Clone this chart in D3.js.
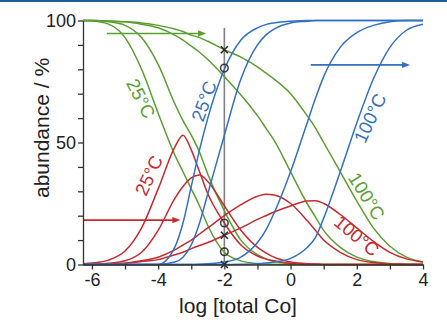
<!DOCTYPE html>
<html>
<head>
<meta charset="utf-8">
<script src="https://cdn.jsdelivr.net/npm/d3@7"></script>
<style>
  body { margin: 0; background: #fff; }
  svg { display: block; font-family: Arial, "Liberation Sans", Helvetica, sans-serif; }
</style>
</head>
<body>
<svg id="chart" width="447" height="320"></svg>
<script>
// log [total Co] sample points shared by every curve
const logCo = [-6.27, -6, -5.5, -5, -4.5, -4, -3.5, -3.25, -3, -2.75, -2.5, -2, -1.5, -1, -0.75, -0.5, 0, 0.5, 0.75, 1, 1.5, 2, 2.5, 3, 3.5, 4];

// green: decreasing species, 25 / 50 / 75 / 100 °C
const green25  = [100, 99.8, 98.5, 93, 80, 62, 45, 38, 31, 24, 16, 5, 1.5, 0.4, 0.2, 0.1, 0, 0, 0, 0, 0, 0, 0, 0, 0, 0];
const green50  = [100, 100, 99.5, 98, 93, 82, 66, 59, 53, 46, 37, 22, 10, 4, 2.3, 1.2, 0.3, 0, 0, 0, 0, 0, 0, 0, 0, 0];
const green75  = [100, 100, 99.8, 99.5, 98.5, 97, 94, 92, 89.5, 87, 84, 77, 69.5, 61, 56, 51, 38, 25, 19.5, 14, 7, 3, 1.2, 0.4, 0.1, 0];
const green100 = [100, 100, 99.8, 99.5, 99, 98, 96.5, 95.5, 94, 93, 91.5, 88, 85, 81, 78.5, 76, 70, 61, 56, 50, 38, 26, 15, 7.5, 3, 1];

// red: intermediate species
const red25  = [0.3, 0.6, 1.8, 5.5, 15, 31, 48, 53, 47, 38, 29, 17, 8, 3.5, 2.3, 1.5, 0.5, 0.2, 0.1, 0, 0, 0, 0, 0, 0, 0];
const red50  = [0, 0.1, 0.5, 1.5, 5, 14, 27, 32, 35.5, 36.7, 34, 24, 14, 7, 4.8, 3, 1, 0.3, 0.2, 0, 0, 0, 0, 0, 0, 0];
const red75  = [0, 0, 0.2, 0.5, 1.5, 3, 6, 8, 10, 12.5, 15, 20, 24.5, 28, 28.8, 28.5, 25, 18, 14, 10, 5, 2, 0.8, 0.2, 0, 0];
const red100 = [0, 0, 0.2, 0.5, 1.2, 2, 4, 5, 6.5, 7.8, 9, 12, 15, 18.5, 20, 21.5, 24, 26, 26.1, 25, 20.5, 15, 9.5, 5, 2.3, 1];

// blue: increasing species
const blue25  = [0, 0, 0, 0, 0, 0, 7, 17, 32, 47, 60, 80, 92, 97, 98.3, 99, 99.7, 100, 100, 100, 100, 100, 100, 100, 100, 100];
const blue50  = [0, 0, 0, 0, 0, 0, 1, 3, 8, 17, 29, 53, 76, 90, 94, 96.5, 99, 99.7, 100, 100, 100, 100, 100, 100, 100, 100];
const blue75  = [0, 0, 0, 0, 0, 0, 0, 0, 0, 0.1, 0.3, 1, 3, 9, 14, 21, 38, 58, 68, 77, 89, 95, 98, 99.5, 100, 100];
const blue100 = [0, 0, 0, 0, 0, 0, 0, 0, 0, 0, 0, 0, 0.1, 0.3, 0.6, 1, 2.5, 7, 11, 19, 38, 58, 76, 89, 96, 98.5];

const xTicks = [-6, -5, -4, -3, -2, -1, 0, 1, 2, 3, 4];
const yTicks = [0, 10, 20, 30, 40, 50, 60, 70, 80, 90, 100];

// values read at log [total Co] = -2
const markerX = -2;
const circleValues = [80.5, 17, 5.2];
const crossValues = [88, 12, 0];

const GREEN = '#5c9e31', RED = '#c62a30', BLUE = '#3470c2';

const series = [
  {values: green25, color: GREEN}, {values: green50, color: GREEN},
  {values: green75, color: GREEN}, {values: green100, color: GREEN},
  {values: red25, color: RED}, {values: red50, color: RED},
  {values: red75, color: RED}, {values: red100, color: RED},
  {values: blue25, color: BLUE}, {values: blue50, color: BLUE},
  {values: blue75, color: BLUE}, {values: blue100, color: BLUE},
];

// annotations, in data units
const arrows = [
  {x1: -5.55, x2: -2.55, y: 94.7, color: GREEN},
  {x1: 0.61, x2: 3.61, y: 81.8, color: BLUE},
  {x1: -6.27, x2: -3.33, y: 18.2, color: RED},
];
const labels = [
  {text: '25°C', x: -4.52, y: 68, angle: 63, color: GREEN},
  {text: '25°C', x: -2.62, y: 67, angle: -70, color: BLUE},
  {text: '25°C', x: -4.28, y: 36.5, angle: -65, color: RED},
  {text: '100°C', x: 2.4, y: 60, angle: -65, color: BLUE},
  {text: '100°C', x: 2.3, y: 28, angle: 58, color: GREEN},
  {text: '100°C', x: 2.0, y: 11.8, angle: 40, color: RED},
];

const svg = d3.select('#chart');

// thin page rule at the top
svg.append('rect').attr('x', 0).attr('y', 0).attr('width', 447).attr('height', 2).attr('fill', '#1f5f92');

const x = d3.scaleLinear().domain([-6.27, 4]).range([83, 423]);
const y = d3.scaleLinear().domain([0, 100]).range([264.5, 20.5]);

const line = d3.line()
  .x((d, i) => x(logCo[i]))
  .y(d => y(d))
  .curve(d3.curveMonotoneX);

// vertical guide at -2
svg.append('line')
  .attr('x1', x(markerX)).attr('x2', x(markerX))
  .attr('y1', y(0)).attr('y2', y(97))
  .attr('stroke', '#808080').attr('stroke-width', 1.6);

svg.append('g')
  .selectAll('path')
  .data(series)
  .join('path')
  .attr('d', d => line(d.values))
  .attr('fill', 'none')
  .attr('stroke', d => d.color)
  .attr('stroke-width', 1.5);

// arrows
const ag = svg.append('g');
arrows.forEach(a => {
  const xe = x(a.x2), ye = y(a.y);
  ag.append('line')
    .attr('x1', x(a.x1)).attr('x2', xe - 4)
    .attr('y1', ye).attr('y2', ye)
    .attr('stroke', a.color).attr('stroke-width', 1.6);
  ag.append('path')
    .attr('d', `M${xe},${ye}L${xe - 8},${ye - 3.2}L${xe - 8},${ye + 3.2}Z`)
    .attr('fill', a.color);
});

// labels
svg.append('g')
  .selectAll('text')
  .data(labels)
  .join('text')
  .attr('transform', d => `translate(${x(d.x)},${y(d.y)}) rotate(${d.angle})`)
  .attr('text-anchor', 'middle')
  .attr('dominant-baseline', 'central')
  .attr('font-size', 18.5)
  .attr('fill', d => d.color)
  .text(d => d.text);

// markers at -2
svg.append('g')
  .selectAll('circle')
  .data(circleValues)
  .join('circle')
  .attr('cx', x(markerX)).attr('cy', d => y(d)).attr('r', 3.8)
  .attr('fill', 'none').attr('stroke', '#3a3a3a').attr('stroke-width', 1.5);

svg.append('g')
  .selectAll('path')
  .data(crossValues)
  .join('path')
  .attr('d', d => {
    const cx = x(markerX), cy = y(d), s = 3.5;
    return `M${cx - s},${cy - s}L${cx + s},${cy + s}M${cx - s},${cy + s}L${cx + s},${cy - s}`;
  })
  .attr('stroke', '#2a2a2a').attr('stroke-width', 1.6);

// axes
const fmtX = d => (d % 2 === 0 ? String(d) : '');
const xAxis = svg.append('g')
  .attr('transform', `translate(0,${y(0)})`)
  .call(d3.axisBottom(x).tickValues(xTicks).tickFormat(fmtX).tickSize(5).tickSizeOuter(0).tickPadding(4));

const yAxis = svg.append('g')
  .attr('transform', `translate(${x(-6.27)},0)`)
  .call(d3.axisLeft(y).tickValues(yTicks).tickFormat(d => (d % 50 === 0 ? d : '')).tickSize(5).tickSizeOuter(0).tickPadding(2));

[xAxis, yAxis].forEach(g => {
  g.selectAll('path, line').attr('stroke', '#333').attr('stroke-width', 1.3);
  g.selectAll('text').attr('font-size', 18).attr('fill', '#222')
    .attr('font-family', 'Arial, "Liberation Sans", Helvetica, sans-serif');
});

svg.append('text')
  .attr('x', 238).attr('y', 313)
  .attr('text-anchor', 'middle')
  .attr('font-size', 21).attr('fill', '#222')
  .text('log [total Co]');

svg.append('text')
  .attr('transform', 'translate(49,128) rotate(-90)')
  .attr('text-anchor', 'middle')
  .attr('font-size', 21).attr('fill', '#222')
  .text('abundance / %');
</script>
</body>
</html>
